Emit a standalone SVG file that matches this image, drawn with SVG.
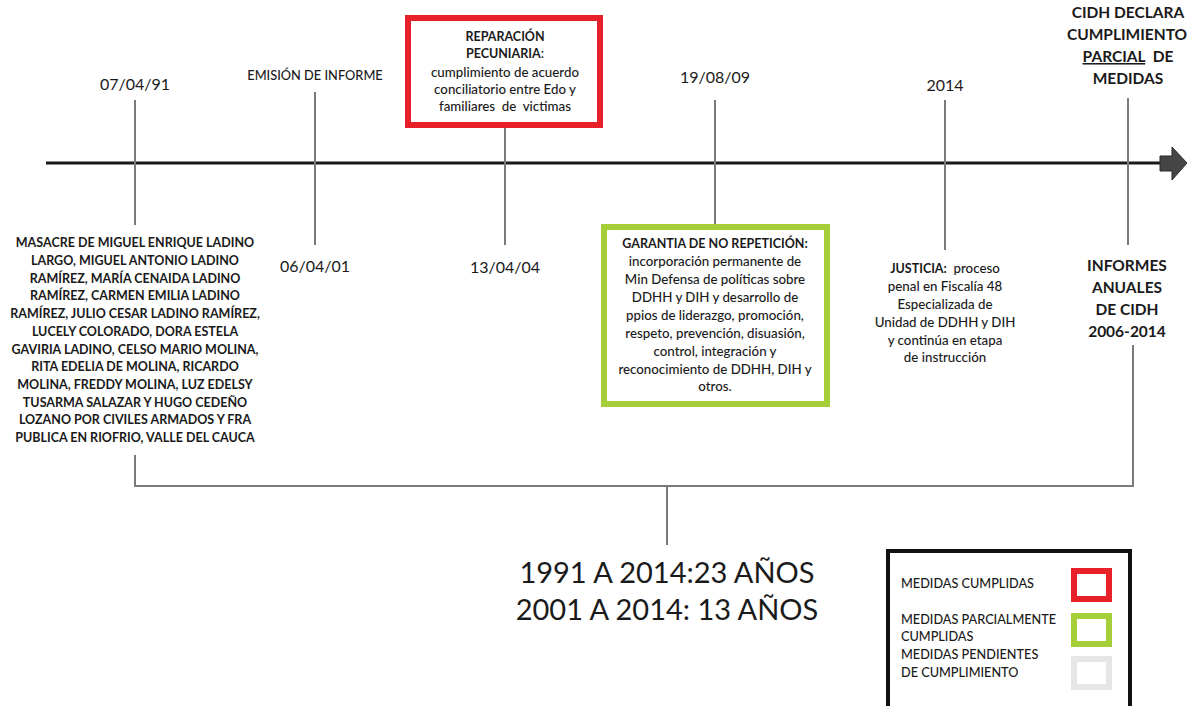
<svg xmlns="http://www.w3.org/2000/svg" width="1187" height="706" viewBox="0 0 1187 706">
<style>
text{font-family:Lato,"Open Sans","Liberation Sans",sans-serif;fill:#1a1a1a;text-anchor:middle}
.s{font-size:13.3px;font-weight:500}
.b{font-weight:bold;font-size:12.5px}
.e{font-size:12.8px;font-weight:500}
.d{font-size:16px}
.h{font-size:15.5px;font-weight:bold}
.big{font-size:29px}
.tick{stroke:#7a7a7a;stroke-width:2;fill:none}
.lg{font-size:12.7px;text-anchor:start;font-weight:500}
.pre{white-space:pre}
</style>
<rect width="1187" height="706" fill="#ffffff"/>
<g id="connectors">
<line x1="46" y1="163" x2="1162" y2="163" stroke="#1a1a1a" stroke-width="3"/>
<path d="M1160,156 H1172 V147 L1187,163 L1172,180 V171 H1160 Z" fill="#454545" stroke="#2a2a2a" stroke-width="1"/>
<line class="tick" x1="135" y1="100" x2="135" y2="225"/>
<line class="tick" x1="315" y1="92" x2="315" y2="245"/>
<line class="tick" x1="505" y1="128" x2="505" y2="245"/>
<line class="tick" x1="715" y1="100" x2="715" y2="226"/>
<line class="tick" x1="945" y1="100" x2="945" y2="250"/>
<line class="tick" x1="1128" y1="98" x2="1128" y2="245"/>
<polyline class="tick" points="135,455 135,486 1133,486 1133,345"/>
<line class="tick" x1="667" y1="486" x2="667" y2="545"/>
</g>
<g id="n1991">
<text class="d" x="135" y="90">07/04/91</text>
<g class="b">
<text x="135" y="247">MASACRE DE MIGUEL ENRIQUE LADINO</text>
<text x="135" y="265">LARGO, MIGUEL ANTONIO LADINO</text>
<text x="135" y="283">RAMÍREZ, MARÍA CENAIDA LADINO</text>
<text x="135" y="300">RAMÍREZ, CARMEN EMILIA LADINO</text>
<text x="135" y="318">RAMÍREZ, JULIO CESAR LADINO RAMÍREZ,</text>
<text x="135" y="336">LUCELY COLORADO, DORA ESTELA</text>
<text x="135" y="354">GAVIRIA LADINO, CELSO MARIO MOLINA,</text>
<text x="135" y="371">RITA EDELIA DE MOLINA, RICARDO</text>
<text x="135" y="389">MOLINA, FREDDY MOLINA, LUZ EDELSY</text>
<text x="135" y="407">TUSARMA SALAZAR Y HUGO CEDEÑO</text>
<text x="135" y="424">LOZANO POR CIVILES ARMADOS Y FRA</text>
<text x="135" y="442">PUBLICA EN RIOFRIO, VALLE DEL CAUCA</text>
</g>
</g>
<g id="n2001">
<text class="e" x="315" y="80">EMISIÓN DE INFORME</text>
<text class="d" x="315" y="272">06/04/01</text>
</g>
<g id="n2004">
<rect x="408" y="18" width="192" height="107" fill="#ffffff" stroke="#e8202a" stroke-width="6"/>
<text class="b" x="505" y="41">REPARACIÓN</text>
<text class="s" x="505" y="58"><tspan class="b">PECUNIARIA</tspan>:</text>
<text class="s" x="505" y="77">cumplimiento de acuerdo</text>
<text class="s" x="505" y="94">conciliatorio entre Edo y</text>
<text class="s pre" x="505" y="111">familiares  de  victimas</text>
<text class="d" x="505" y="273">13/04/04</text>
</g>
<g id="n2009">
<text class="d" x="715" y="83">19/08/09</text>
<rect x="604" y="227" width="223" height="177" fill="#ffffff" stroke="#a6ce39" stroke-width="6"/>
<text class="b" x="715" y="248">GARANTIA DE NO REPETICIÓN:</text>
<text class="s" x="715" y="266">incorporación permanente de</text>
<text class="s" x="715" y="284">Min Defensa de políticas sobre</text>
<text class="s" x="715" y="302">DDHH y DIH y desarrollo de</text>
<text class="s" x="715" y="320">ppios de liderazgo, promoción,</text>
<text class="s" x="715" y="338">respeto, prevención, disuasión,</text>
<text class="s" x="715" y="356">control, integración y</text>
<text class="s" x="715" y="374">reconocimiento de DDHH, DIH y</text>
<text class="s" x="715" y="391">otros.</text>
</g>
<g id="n2014">
<text class="d" x="945" y="91">2014</text>
<text class="s pre" x="945" y="273"><tspan class="b" font-size="13.3">JUSTICIA:</tspan>  proceso</text>
<text class="s" x="945" y="291">penal en Fiscalía 48</text>
<text class="s" x="945" y="309">Especializada de</text>
<text class="s" x="945" y="327">Unidad de DDHH y DIH</text>
<text class="s" x="945" y="345">y continúa en etapa</text>
<text class="s" x="945" y="362">de instrucción</text>
</g>
<g id="ncidh">
<text class="h" x="1128" y="18">CIDH DECLARA</text>
<text class="h" x="1127" y="40" font-size="15">CUMPLIMIENTO</text>
<text class="h pre" x="1128" y="62"><tspan text-decoration="underline">PARCIAL</tspan>  DE</text>
<text class="h" x="1128" y="84">MEDIDAS</text>
<text class="h" x="1127" y="271">INFORMES</text>
<text class="h" x="1127" y="293">ANUALES</text>
<text class="h" x="1127" y="315">DE CIDH</text>
<text class="h" x="1127" y="337">2006-2014</text>
</g>
<g id="summary">
<text class="big" x="667" y="583">1991 A 2014:23 AÑOS</text>
<text class="big" x="667" y="620">2001 A 2014: 13 AÑOS</text>
</g>
<g id="legend">
<rect x="888" y="551" width="242" height="160" fill="#ffffff" stroke="#111111" stroke-width="4"/>
<text class="lg" x="901" y="588">MEDIDAS CUMPLIDAS</text>
<text class="lg" x="901" y="624">MEDIDAS PARCIALMENTE</text>
<text class="lg" x="901" y="641">CUMPLIDAS</text>
<text class="lg" x="901" y="659">MEDIDAS PENDIENTES</text>
<text class="lg" x="901" y="677">DE CUMPLIMIENTO</text>
<rect x="1074" y="571" width="35" height="28" fill="#ffffff" stroke="#e8202a" stroke-width="6"/>
<rect x="1074" y="616" width="35" height="28" fill="#ffffff" stroke="#a6ce39" stroke-width="6"/>
<rect x="1074" y="659" width="35" height="28" fill="#ffffff" stroke="#e6e6e6" stroke-width="6"/>
</g>
</svg>
